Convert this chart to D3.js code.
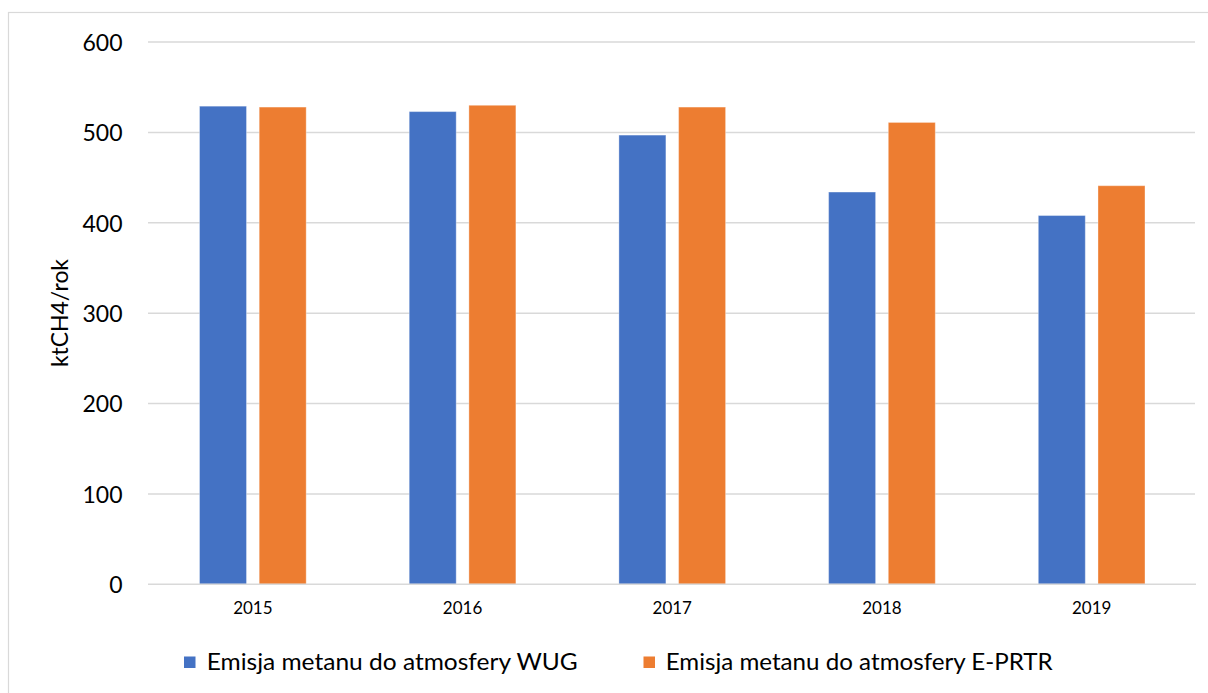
<!DOCTYPE html>
<html><head><meta charset="utf-8">
<script src="https://cdn.jsdelivr.net/npm/d3@7"></script>
<style>html,body{margin:0;padding:0;background:#fff;}svg{display:block;font-family:Lato,'Open Sans',sans-serif;}</style>
</head><body>
<svg id="c" width="1208" height="693"></svg>
<script>
const years = ["2015","2016","2017","2018","2019"];
const seriesNames = ["Emisja metanu do atmosfery WUG","Emisja metanu do atmosfery E-PRTR"];
const wug = [529, 523, 497, 434, 408];
const eprtr = [528, 530, 528, 511, 441];
const yTicks = [0,100,200,300,400,500,600];
const colors = ["#4472C4","#ED7D31"];
const yTitle = "ktCH4/rok";

const svg = d3.select("#c");
svg.append("rect").attr("x",8.5).attr("y",12.5).attr("width",1220).attr("height",700)
  .attr("fill","#fff").attr("stroke","#D9D9D9").attr("stroke-width",1.2);

const L=148, R=1196.5, T=42, B=584.3;
const y = d3.scaleLinear().domain([0,600]).range([B,T]);
const x0 = d3.scaleBand().domain(years).range([L,R]).paddingInner(0).paddingOuter(0);
const x1 = d3.scaleBand().domain([0,1]).range([0,x0.bandwidth()]).paddingInner(0.2127).paddingOuter(0.863);

// gridlines
svg.append("g").selectAll("line").data(yTicks.filter(d=>d>0)).join("line")
  .attr("x1",L).attr("x2",1195).attr("y1",d=>y(d)).attr("y2",d=>y(d))
  .attr("stroke","#D9D9D9").attr("stroke-width",1.5);

// bars
const data = years.map((yr,i)=>({yr, vals:[wug[i],eprtr[i]]}));
const g = svg.append("g").selectAll("g").data(data).join("g")
  .attr("transform",d=>`translate(${x0(d.yr)},0)`);
g.selectAll("rect").data(d=>d.vals.map((v,k)=>({v,k}))).join("rect")
  .attr("x",d=>x1(d.k)).attr("width",x1.bandwidth())
  .attr("y",d=>y(d.v)).attr("height",d=>B-y(d.v))
  .attr("fill",d=>colors[d.k]).attr("stroke","#fff").attr("stroke-opacity",0.35).attr("stroke-width",1);

// x axis line
svg.append("line").attr("x1",L).attr("x2",1196).attr("y1",B).attr("y2",B)
  .attr("stroke","#D9D9D9").attr("stroke-width",1.5);

// y tick labels
const yAxis = d3.axisLeft(y).tickValues(yTicks).tickSize(0).tickPadding(0);
const ya = svg.append("g").attr("transform",`translate(122.5,0)`).call(yAxis);
ya.select(".domain").remove();
ya.selectAll("text").attr("font-family","Lato").attr("font-size",23).attr("fill","#000").attr("dy","0.36em");

// x labels
const xAxis = d3.axisBottom(x0).tickSize(0).tickPadding(0);
const xa = svg.append("g").attr("transform",`translate(0,${B})`).call(xAxis);
xa.select(".domain").remove();
xa.selectAll("text").attr("font-family","Lato").attr("font-size",17).attr("fill","#000").attr("dy",null).attr("y",30);

// y title
svg.append("text").attr("transform","translate(68,313) rotate(-90)")
  .attr("text-anchor","middle").attr("font-size",23).attr("fill","#000")
  .attr("textLength",108).attr("lengthAdjust","spacingAndGlyphs").text(yTitle);

// legend
const legX = [184, 643.5], legTextX=[206.7,665.7], legW=[371,387];
seriesNames.forEach((s,i)=>{
  svg.append("rect").attr("x",legX[i]).attr("y",656.5).attr("width",11.5).attr("height",11.5).attr("fill",colors[i]);
  svg.append("text").attr("x",legTextX[i]).attr("y",669.5).attr("font-size",23).attr("fill","#000")
    .attr("textLength",legW[i]).attr("lengthAdjust","spacingAndGlyphs").text(s);
});
</script>
</body></html>
